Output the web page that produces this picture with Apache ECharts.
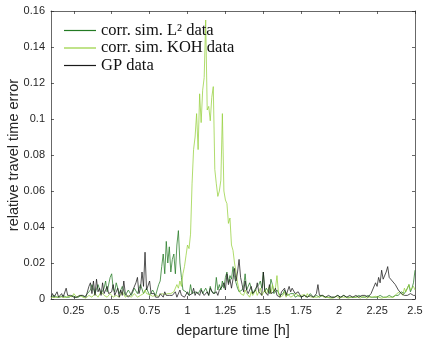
<!DOCTYPE html>
<html>
<head>
<meta charset="utf-8">
<script src="https://cdn.jsdelivr.net/npm/echarts@6.0.0/dist/echarts.min.js"></script>
<style>
  html, body { margin: 0; padding: 0; background: #fff; }
  #chart { width: 425px; height: 338px; }
</style>
</head>
<body>
<div id="chart"></div>
<script>
// departure time grid [h]: 0.10 .. 2.50, step 0.01
const tStart = 0.1;
const tStep = 0.01;

// relative travel time error, in units of 1e-3 (one row = 0.2 h)
const l2Data = [
  1, 2, 2, 1, 1, 1, 1, 2, 2, 1, 1, 2, 1, 1, 2, 1, 1, 1, 1, 2,
  2, 1, 1, 2, 3, 4, 5, 8, 9, 3, 4, 8, 7, 3, 3, 6, 10, 4, 5, 12,
  14, 6, 4, 9, 8, 3, 3, 7, 6, 2, 2, 5, 4, 2, 1, 6, 6, 3, 3, 8,
  9, 3, 4, 6, 7, 2, 3, 5, 5, 2, 2, 8, 10, 18, 25, 14, 32, 20, 29, 15,
  22, 25, 14, 30, 38, 20, 12, 5, 6, 4, 3, 2, 8, 3, 2, 4, 5, 3, 2, 6,
  3, 2, 6, 4, 2, 7, 4, 5, 3, 12, 5, 8, 5, 10, 6, 12, 15, 9, 13, 11,
  18, 12, 9, 6, 4, 3, 5, 7, 14, 5, 4, 9, 6, 3, 4, 6, 5, 8, 10, 6,
  15, 4, 6, 7, 3, 11, 8, 3, 4, 5, 6, 2, 3, 3, 5, 4, 2, 3, 3, 2,
  3, 1, 1, 2, 2, 1, 1, 2, 2, 1, 1, 3, 3, 1, 1, 2, 2, 1, 1, 2,
  1, 1, 2, 1, 1, 1, 2, 1, 1, 2, 1, 1, 1, 2, 1, 1, 2, 1, 1, 1,
  1, 1, 1, 2, 2, 1, 1, 1, 1, 2, 1, 1, 2, 1, 1, 1, 1, 2, 2, 1,
  1, 1, 1, 2, 2, 1, 1, 2, 3, 2, 2, 4, 5, 3, 3, 6, 8, 4, 6, 9,
  16
];
const kohData = [
  1, 0.5, 0.8, 1.5, 1, 2, 1.5, 1, 0.8, 0.5, 1, 2, 1.5, 1, 1.2, 3, 2, 1, 1.3, 2,
  2, 1, 1.3, 0.5, 0.8, 2, 1.6, 1, 1.2, 3, 2.5, 1, 1.5, 4, 3, 2, 1.5, 1, 1.2, 3,
  3, 1, 1.4, 2, 1.6, 1, 1.5, 4, 3, 1, 1.3, 2, 1.5, 1, 1.2, 3, 2.4, 1, 1.3, 2,
  2, 3, 5, 3, 2, 2.5, 3, 1.5, 1, 2, 2, 1.5, 1, 3, 2, 2.5, 2, 3, 4, 3,
  3, 4, 5, 8, 6, 10, 7, 14, 18, 24, 30, 28, 36, 64, 83, 90, 103, 83, 114, 98,
  116, 123, 155, 105, 107, 99, 112, 118, 72, 64, 57, 60, 66, 103, 60, 55, 53, 42, 45, 30,
  27, 20, 15, 9, 5, 3, 4, 2, 5, 3, 2, 1, 4, 2, 3, 5, 2, 3, 6, 2,
  2, 5, 3, 4, 7, 3, 8, 4, 6, 13, 3, 1, 2, 2, 4, 1, 3, 2, 1, 2,
  2, 1, 3, 1.5, 1, 2, 1, 2.5, 1, 3, 1.5, 1, 1, 2, 1, 1.5, 1, 1, 2, 1,
  1, 0.5, 1, 1.5, 0.5, 1, 0.5, 1, 1.5, 1, 0.5, 1, 1, 0.5, 1, 1.5, 0.5, 1, 1, 0.5,
  1, 0.5, 1, 1, 0.5, 1, 1.5, 1, 0.5, 1, 1, 0.5, 1, 1, 1.5, 0.5, 1, 1, 0.5, 1,
  1, 1.5, 1, 0.5, 1, 2, 1, 1.5, 3, 2, 4, 3, 2, 6, 4, 3, 8, 5, 4, 7,
  5
];
const gpData = [
  1, 3, 1, 2, 4, 1, 2, 3, 1, 2, 6, 2, 1, 2, 1, 1, 2, 1, 1, 2,
  1, 2, 1, 1, 2, 7, 9, 3, 10, 2, 11, 4, 6, 2, 9, 3, 2, 7, 3, 2,
  4, 8, 2, 3, 6, 1, 5, 2, 10, 3, 2, 1, 2, 3, 5, 4, 9, 12, 3, 6,
  15, 7, 26, 5, 4, 10, 3, 2, 3, 1, 2, 1, 3, 2, 1, 4, 2, 1, 2, 1,
  2, 3, 4, 1, 2, 5, 2, 3, 1, 2, 4, 2, 1, 3, 6, 2, 4, 3, 2, 5,
  5, 2, 1, 4, 2, 6, 7, 3, 2, 4, 2, 5, 4, 7, 9, 5, 14, 8, 11, 6,
  11, 17, 10, 15, 22, 12, 8, 4, 10, 5, 3, 2, 7, 3, 2, 5, 9, 4, 4, 2,
  15, 4, 3, 2, 8, 3, 2, 4, 6, 2, 2, 1, 4, 3, 6, 2, 3, 7, 4, 6,
  5, 3, 2, 4, 4, 1, 1, 2, 2, 1, 1, 2, 2, 1, 1, 3, 8, 2, 1, 2,
  2, 1, 1, 2, 1, 1, 2, 1, 1, 2, 3, 1, 1, 2, 1, 1, 2, 2, 1, 1,
  1, 2, 2, 1, 1, 2, 1, 2, 2, 1, 2, 3, 5, 4, 9, 7, 12, 9, 16, 11,
  11, 15, 18, 12, 13, 10, 10, 8, 7, 5, 4, 3, 3, 2, 1, 2, 2, 3, 4, 2,
  2
];

const xTicks = [0.25, 0.5, 0.75, 1, 1.25, 1.5, 1.75, 2, 2.25, 2.5];
const seriesNames = ['corr. sim. L\u00B2 data', 'corr. sim. KOH data', 'GP data'];
const seriesColors = ['#237a23', '#96d03c', '#1a1a1a'];

const toPairs = (arr) => arr.map((v, i) => [+(tStart + i * tStep).toFixed(2), v / 1000]);

const axisCol = '#262626';
const sans = 'Liberation Sans, Arial, sans-serif';
const tickFont = { color: axisCol, fontSize: 11, fontFamily: sans };
const axisLineStyle = { color: axisCol, width: 0.7 };

const chart = echarts.init(document.getElementById('chart'), null, { renderer: 'canvas' });
chart.setOption({
  animation: false,
  grid: { left: 51, right: 10, top: 11, bottom: 39, containLabel: false, outerBoundsMode: 'none' },
  legend: {
    orient: 'vertical',
    left: 64,
    top: 22,
    padding: 0,
    icon: 'rect',
    itemWidth: 32,
    itemHeight: 1.2,
    itemGap: 0.5,
    textStyle: { color: '#111', fontSize: 16.5, fontFamily: 'Liberation Serif, Times New Roman, serif' },
    data: seriesNames,
  },
  xAxis: [
    {
      type: 'value',
      min: 0.1,
      max: 2.5,
      name: 'departure time [h]',
      nameLocation: 'middle',
      nameGap: 24,
      nameMoveOverlap: false,
      nameTextStyle: { color: axisCol, fontSize: 14.5, fontFamily: sans },
      axisLine: { onZero: false, lineStyle: axisLineStyle },
      axisTick: { inside: true, length: 3, customValues: xTicks, lineStyle: axisLineStyle },
      axisLabel: { ...tickFont, margin: 6, customValues: xTicks },
      splitLine: { show: false },
    },
    {
      type: 'value',
      position: 'top',
      min: 0.1,
      max: 2.5,
      axisLine: { onZero: false, lineStyle: axisLineStyle },
      axisTick: { inside: true, length: 3, customValues: xTicks, lineStyle: axisLineStyle },
      axisLabel: { show: false },
      splitLine: { show: false },
    },
  ],
  yAxis: [
    {
      type: 'value',
      min: 0,
      max: 0.16,
      interval: 0.02,
      name: 'relative travel time error',
      nameLocation: 'middle',
      nameGap: 30,
      nameMoveOverlap: false,
      nameTextStyle: { color: axisCol, fontSize: 14.5, fontFamily: sans },
      axisLine: { show: true, onZero: false, lineStyle: axisLineStyle },
      axisTick: { show: true, inside: true, length: 3, lineStyle: axisLineStyle },
      axisLabel: { ...tickFont, margin: 6 },
      splitLine: { show: false },
    },
    {
      type: 'value',
      position: 'right',
      min: 0,
      max: 0.16,
      interval: 0.02,
      axisLine: { show: true, onZero: false, lineStyle: axisLineStyle },
      axisTick: { show: true, inside: true, length: 3, lineStyle: axisLineStyle },
      axisLabel: { show: false },
      splitLine: { show: false },
    },
  ],
  series: [l2Data, kohData, gpData].map((d, k) => ({
    name: seriesNames[k],
    type: 'line',
    data: toPairs(d),
    showSymbol: false,
    symbol: 'none',
    itemStyle: { color: seriesColors[k] },
    lineStyle: { color: seriesColors[k], width: 0.75 },
  })),
});
</script>
</body>
</html>
